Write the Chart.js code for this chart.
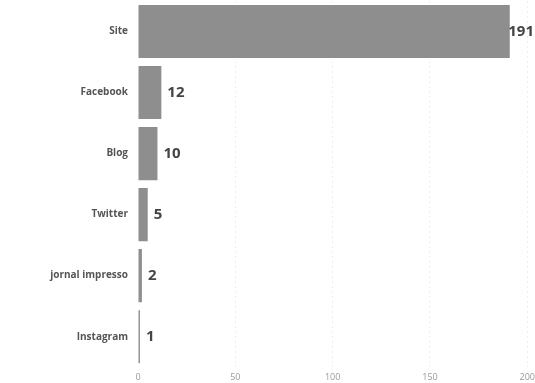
<!DOCTYPE html>
<html>
<head>
<meta charset="utf-8">
<script src="https://cdn.jsdelivr.net/npm/chart.js@4"></script>
<style>
  html, body { margin: 0; padding: 0; background: #fff; overflow: hidden; }
  #wrap { width: 540px; height: 403px; margin-top: -15px; }
</style>
</head>
<body>
<div id="wrap"><canvas id="chart"></canvas></div>
<script>
// dados
const categorias = ['Site', 'Facebook', 'Blog', 'Twitter', 'jornal impresso', 'Instagram'];
const valores = [191, 12, 10, 5, 2, 1];
const ticksX = [0, 50, 100, 150, 200];

// escreve o valor ao lado de cada barra
const valorLabels = {
    id: 'valorLabels',
    afterDatasetsDraw(chart) {
        const ctx = chart.ctx;
        const meta = chart.getDatasetMeta(0);
        ctx.save();
        ctx.font = 'bold 15px "Open Sans"';
        ctx.fillStyle = '#444';
        ctx.textBaseline = 'middle';
        meta.data.forEach((bar, i) => {
            const txt = String(valores[i]);
            let x = bar.x + 6;
            const w = ctx.measureText(txt).width;
            if (x + w > 534) x = 534 - w;
            ctx.fillText(txt, x, bar.y);
        });
        ctx.restore();
    }
};

const ctx = document.getElementById('chart').getContext('2d');
const chart = new Chart(ctx, {
    type: 'bar',
    data: {
        labels: categorias,
        datasets: [{
            data: valores,
            backgroundColor: '#8e8e8e',
            barPercentage: 0.87,
            categoryPercentage: 1
        }]
    },
    options: {
        indexAxis: 'y',
        responsive: true,
        maintainAspectRatio: false,
        animation: false,
        plugins: {
            legend: { display: false },
            tooltip: { enabled: false }
        },
        scales: {
            x: {
                min: ticksX[0],
                max: ticksX[ticksX.length - 1],
                afterBuildTicks: (axis) => { axis.ticks = ticksX.map(v => ({ value: v })); },
                grid: {
                    color: (c) => c.tick && c.tick.value === 0 ? 'rgba(0,0,0,0)' : '#eeeeee',
                    drawTicks: false
                },
                border: { display: false, dash: [2, 3] },
                ticks: {
                    color: '#999',
                    font: { family: 'Open Sans', size: 9 },
                    padding: 5
                }
            },
            y: {
                afterFit: (axis) => { axis.width = 138; },
                grid: { display: false, drawTicks: false },
                border: { display: false },
                ticks: {
                    color: '#555',
                    font: { family: 'Open Sans', size: 10, weight: 'bold' },
                    padding: 10
                }
            }
        }
    },
    plugins: [valorLabels]
});
</script>
</body>
</html>
